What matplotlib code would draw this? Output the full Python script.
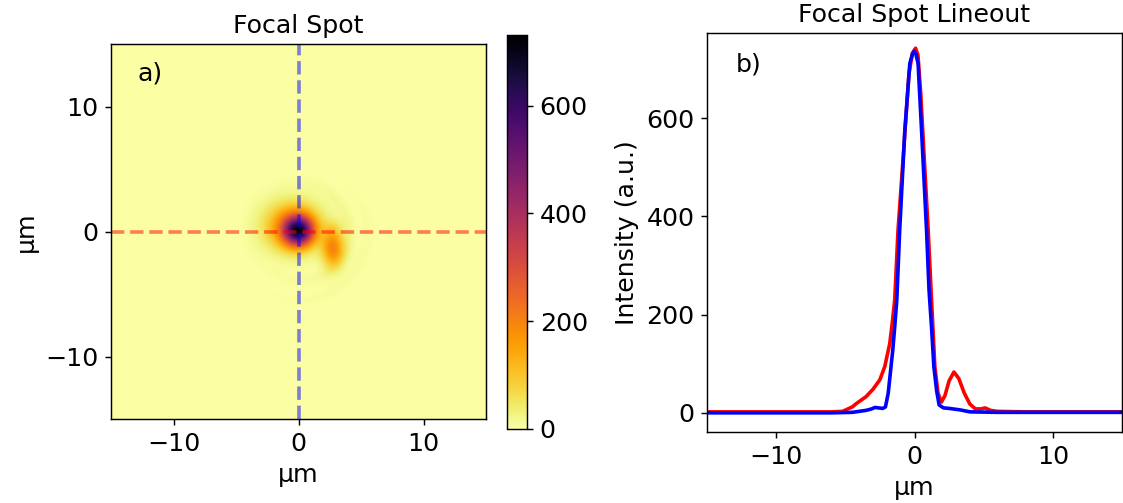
import numpy as np
import matplotlib
matplotlib.use("Agg")
import matplotlib.pyplot as plt

# ---------------- data ----------------
# 2D focal spot: Gaussian components (x0, y0, sx, sy, amplitude)
spot_x0 = [0.0, -0.5, 2.75, 2.7]
spot_y0 = [0.05, 0.4, -1.35, 0.2]
spot_sx = [0.80, 1.5, 0.6, 0.45]
spot_sy = [0.80, 1.3, 1.0, 0.5]
spot_amp = [540.0, 200.0, 190.0, 25.0]
# faint ring arcs: radius, width, amplitude, centre angle (deg), angular half-width (deg)
ring_r = [4.0, 5.5]
ring_w = [0.4, 0.4]
ring_amp = [16.0, 9.0]
ring_ang = [-10.0, -30.0]
ring_span = [70.0, 60.0]

# horizontal lineout (red)
red_x = [-15, -10, -6, -5.2, -4.5, -4.2, -3.5, -3.0, -2.51, -2.15, -1.79, -1.6, -1.43,
         -1.19, -0.78, -0.4, -0.15, 0.08, 0.25, 0.45, 0.67, 0.99, 1.23, 1.47, 1.7, 1.95,
         2.2, 2.5, 2.85, 3.2, 3.6, 4.0, 4.4, 4.8, 5.1, 5.5, 6.0, 8, 10, 15]
red_y = [2, 2, 2, 3, 12, 19, 33, 48, 67, 94, 141, 185, 230,
         372, 535, 690, 732, 742, 728, 650, 535, 372, 230, 94, 40, 22,
         35, 65, 83, 70, 40, 18, 8, 8, 10, 5, 3, 2, 2, 2]
# vertical lineout (blue)
blue_x = [-15, -6, -4.5, -4.0, -3.5, -3.1, -2.85, -2.6, -2.3, -2.1, -1.9, -1.57, -1.43,
          -1.28, -1.07, -0.70, -0.34, -0.15, -0.03, 0.1, 0.26, 0.51, 0.87, 1.05, 1.23,
          1.40, 1.6, 1.78, 2.1, 2.5, 3.3, 4.0, 6.0, 15]
blue_y = [0, 0, 1, 3, 5, 8, 11, 10, 9, 12, 40, 128, 175,
          230, 372, 575, 711, 730, 736, 730, 711, 575, 372, 250, 175,
          94, 45, 16, 10, 9, 6, 2, 1, 1]

extent_um = 15.0

# ---------------- build image ----------------
g = np.linspace(-extent_um, extent_um, 601)
X, Y = np.meshgrid(g, g)
Z = np.zeros_like(X)
for x0, y0, sx, sy, a in zip(spot_x0, spot_y0, spot_sx, spot_sy, spot_amp):
    Z += a * np.exp(-((X - x0) ** 2 / (2 * sx ** 2) + (Y - y0) ** 2 / (2 * sy ** 2)))
R = np.hypot(X, Y)
TH = np.degrees(np.arctan2(Y, X))
for r0, w, a, ang, span in zip(ring_r, ring_w, ring_amp, ring_ang, ring_span):
    dth = (TH - ang + 180) % 360 - 180
    Z += a * np.exp(-(R - r0) ** 2 / (2 * w ** 2)) * np.exp(-dth ** 2 / (2 * span ** 2))

# ---------------- figure ----------------
plt.rcParams['font.size'] = 14
plt.rcParams['font.family'] = ['DejaVu Sans']
dpi = 130
fig = plt.figure(figsize=(1123 / dpi, 503 / dpi), dpi=dpi)

ax1 = fig.add_axes([111 / 1123, 1 - 419 / 503, 375 / 1123, 375 / 503])
cax = fig.add_axes([507 / 1123, 1 - 429 / 503, 20 / 1123, 394 / 503])
ax2 = fig.add_axes([707 / 1123, 1 - 432 / 503, 415 / 1123, 399 / 503])

im = ax1.imshow(Z, cmap='inferno_r', origin='lower',
                extent=[-extent_um, extent_um, -extent_um, extent_um],
                vmin=0, vmax=731, interpolation='bilinear', aspect='auto')
ax1.axhline(0, color='red', alpha=0.5, lw=2, ls='--')
ax1.axvline(0, color='blue', alpha=0.5, lw=2, ls='--')
ax1.set_xlim(-extent_um, extent_um)
ax1.set_ylim(-extent_um, extent_um)
ax1.set_xticks([-10, 0, 10])
ax1.set_yticks([-10, 0, 10])
ax1.set_title('Focal Spot', fontsize=14)
ax1.set_xlabel('µm')
ax1.set_ylabel('µm')
ax1.text(-12.9, 12.6, 'a)', ha='left', va='center', fontsize=14)

cb = fig.colorbar(im, cax=cax)
cb.set_ticks([0, 200, 400, 600])

ax2.plot(red_x, red_y, color='red', lw=2)
ax2.plot(blue_x, blue_y, color='blue', lw=2)
ax2.set_xlim(-15, 15)
ax2.set_ylim(-39, 773)
ax2.set_xticks([-10, 0, 10])
ax2.set_yticks([0, 200, 400, 600])
ax2.set_title('Focal Spot Lineout', fontsize=14)
ax2.set_xlabel('µm')
ax2.set_ylabel('Intensity (a.u.)')
ax2.text(-12.95, 708, 'b)', ha='left', va='center', fontsize=14)

fig.savefig('out.png', dpi=dpi)
